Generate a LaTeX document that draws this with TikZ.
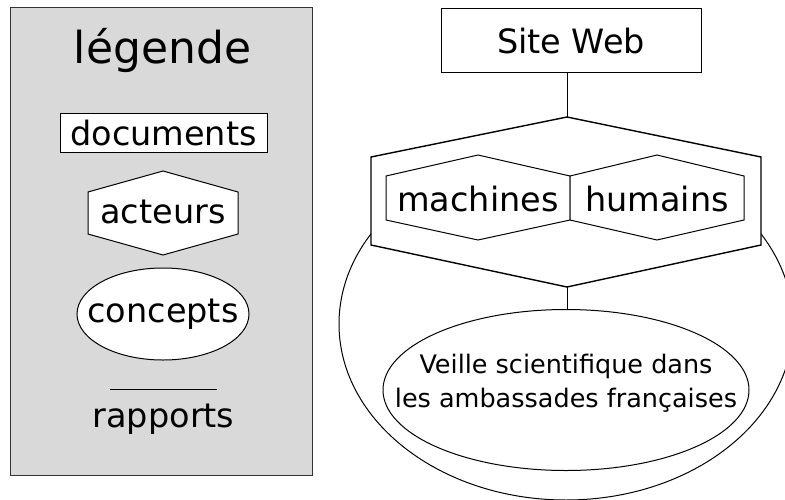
\documentclass[tikz,border=0pt]{standalone}
\usepackage{fontspec}
\setmainfont{DejaVu Sans}
\usetikzlibrary{shapes.geometric}
\definecolor{legendgray}{HTML}{D9D9D9}
\tikzset{
  txt/.style={anchor=base, inner sep=0pt, font=\fontsize{33.5}{40}\selectfont},
  bigtxt/.style={anchor=base, inner sep=0pt, font=\fontsize{44}{52}\selectfont},
  smalltxt/.style={anchor=base, inner sep=0pt, font=\fontsize{25.5}{33}\selectfont},
  boxshape/.style={draw, fill=white, rectangle, inner sep=0pt},
  ellshape/.style={draw, fill=white, ellipse, inner sep=0pt},
  hexline/.style={draw, fill=white, line width=1pt},
  outerhex/.style={draw, fill=white, line width=1.4pt, line join=miter},
}
\begin{document}
\begin{tikzpicture}[x=1pt,y=-1pt,line width=1pt]
\useasboundingbox (0,0) rectangle (785,499);
\clip (0,0) rectangle (785,499);
% legend
\node (legend) [draw=black!80, fill=legendgray, rectangle, minimum width=302pt, minimum height=468pt, inner sep=0pt, anchor=north west] at (10,7) {};
\node (legtitle) [bigtxt] at (162.5,63) {légende};
\node (docbox) [boxshape, minimum width=207pt, minimum height=39pt] at (163.5,132.5) {};
\node (doctxt) [txt] at (163.5,145) {documents};
\path[hexline] (163,171) coordinate (acttop) -- (238,192) -- (238,234) -- (163,255) -- (88,234) -- (88,192) -- cycle;
\node (acttxt) [txt] at (163,223) {acteurs};
\node (concell) [ellshape, minimum width=172pt, minimum height=92pt] at (163,314) {};
\node (conctxt) [txt] at (163,322) {concepts};
\coordinate (rapL) at (110,389);
\coordinate (rapR) at (217,389);
\draw (rapL) -- (rapR);
\node (raptxt) [txt] at (163.5,427) {rapports};
% main diagram
\node (world) [draw, ellipse, minimum width=454pt, minimum height=352pt, inner sep=0pt] at (566,324) {};
\node (site) [boxshape, minimum width=260pt, minimum height=64pt] at (571,40) {};
\node (sitetxt) [txt] at (571,53) {Site Web};
\path[outerhex] (567,117) coordinate (hextop) -- (761,157) -- (761,245) -- (567,287) coordinate (hexbot) -- (371,245) -- (371,157) -- cycle;
\path[hexline] (478,155) -- (570,176) -- (570,220) -- (478,240) -- (386,220) -- (386,176) -- cycle;
\path[hexline] (657,155) -- (744,176) -- (744,220) -- (657,240) -- (570,220) -- (570,176) -- cycle;
\node (machtxt) [txt] at (478,211) {machines};
\node (humtxt) [txt] at (657,211) {humains};
\node (veille) [ellshape, minimum width=366pt, minimum height=161pt] at (566,390) {};
\node (veilleA) [smalltxt] at (566,373) {Veille scientifique dans};
\node (veilleB) [smalltxt] at (566,407) {les ambassades françaises};
\draw (site.south -| hextop) -- (hextop);
\draw (hexbot) -- (veille.north -| hexbot);
\end{tikzpicture}
\end{document}
